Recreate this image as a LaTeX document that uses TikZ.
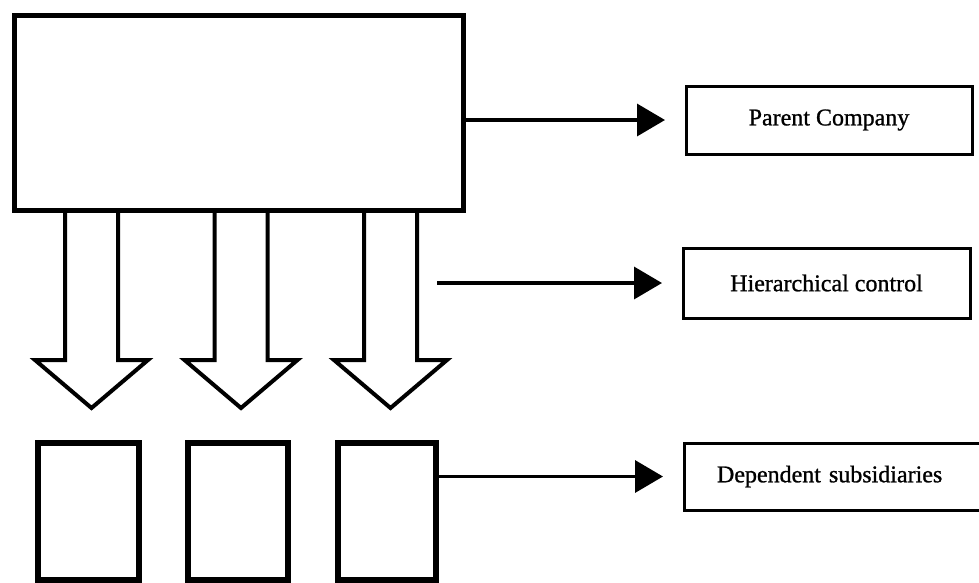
\documentclass[tikz,border=0pt]{standalone}
\usepackage{fontspec}
\setmainfont{Liberation Serif}[FakeBold=1]
\usetikzlibrary{arrows.meta}
\begin{document}
\begin{tikzpicture}[x=1pt,y=-1pt,
  bigbox/.style={draw,line width=5pt,inner sep=0pt,outer sep=0pt},
  unitbox/.style={draw,line width=5.5pt,inner sep=0pt,outer sep=0pt,
    minimum height=137pt},
  labelbox/.style={draw,line width=3pt,inner sep=0pt,outer sep=0pt,
    font=\fontsize{24}{28}\selectfont},
  blockarrow/.style={draw,line width=4pt,miter limit=10,line join=miter,fill=white},
  pointer/.style={line width=3.5pt,-{Triangle[length=28pt,width=32pt]},shorten >=21pt}
]
\useasboundingbox (0,0) rectangle (979,582);
\clip (0,0) rectangle (979,582);

% downward block arrows (hierarchical control), drawn under the parent box
\foreach \c in {91.5,241,390.5}{
  \draw[blockarrow] (\c-26.5,210) -- (\c-26.5,360) -- (\c-56.5,360)
    -- (\c,408) -- (\c+56.5,360) -- (\c+26.5,360) -- (\c+26.5,210);
}

% parent company block
\node[bigbox,minimum width=449pt,minimum height=195pt] (parent) at (238.5,112.5) {};

% subsidiaries
\node[unitbox,minimum width=101pt] (sub1) at (88.5,511.5) {};
\node[unitbox,minimum width=100pt] (sub2) at (238,511.5) {};
\node[unitbox,minimum width=98pt] (sub3) at (387,511.5) {};

% legend boxes
\node[labelbox,minimum width=286pt,minimum height=68pt] (pc) at (829,120) {Parent Company};
\node[labelbox,minimum width=287pt,minimum height=70pt] (hc) at (826.5,283) {Hierarchical control};
\node[labelbox,minimum height=67pt,anchor=west,inner xsep=33pt,
  text width=240pt,align=left] (ds) at (684,476.5) {Dependent subsidiaries};

% pointers to the legend
\draw[pointer] (parent.east |- pc.west) -- (pc.west);
\coordinate (hstart) at (437,283);
\draw[pointer] (hstart) -- (hc.west);
\draw[pointer] (sub3.east |- ds.west) -- (ds.west);
\end{tikzpicture}
\end{document}
